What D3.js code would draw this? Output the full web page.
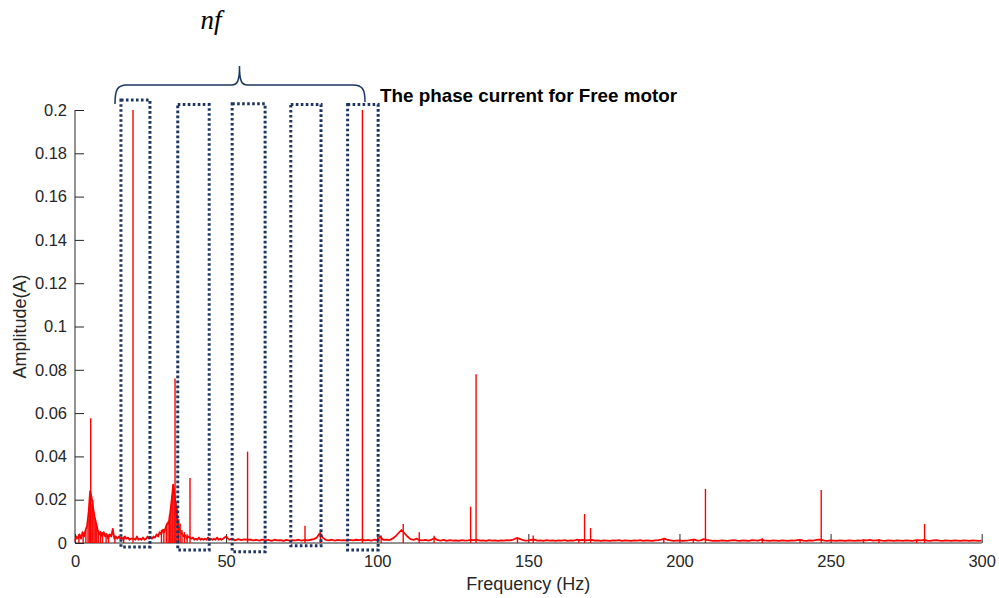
<!DOCTYPE html>
<html><head><meta charset="utf-8">
<script src="https://cdn.jsdelivr.net/npm/d3@7"></script>
<style>
html,body{margin:0;padding:0;background:#fff;}
svg{display:block;}
</style>
</head><body>
<svg id="chart" width="999" height="598"></svg>
<script>
// ---- data ----
const xTicks = [0, 50, 100, 150, 200, 250, 300];
const yTicks = [0, 0.02, 0.04, 0.06, 0.08, 0.1, 0.12, 0.14, 0.16, 0.18, 0.2];

// noise floor, 0 - 49.5 Hz at 0.5 Hz spacing
const lowStart = 0, lowStep = 0.5;
const lowAmp = [
 0.0010,0.0030,0.0020,0.0040,0.0020,0.0050,0.0030,0.0060,0.0080,0.0140,
 0.0240,0.0210,0.0160,0.0120,0.0090,0.0060,0.0040,0.0050,0.0030,0.0050,
 0.0030,0.0040,0.0020,0.0040,0.0030,0.0065,0.0020,0.0030,0.0020,0.0030,
 0.0020,0.0025,0.0015,0.0030,0.0020,0.0025,0.0015,0.0020,0.0020,0.0020,
 0.0015,0.0030,0.0015,0.0020,0.0015,0.0025,0.0015,0.0020,0.0030,0.0020,
 0.0025,0.0020,0.0030,0.0025,0.0040,0.0030,0.0050,0.0040,0.0060,0.0050,
 0.0070,0.0090,0.0090,0.0140,0.0200,0.0270,0.0220,0.0140,0.0090,0.0060,
 0.0050,0.0040,0.0030,0.0035,0.0020,0.0030,0.0025,0.0020,0.0025,0.0015,
 0.0020,0.0015,0.0025,0.0015,0.0020,0.0015,0.0020,0.0015,0.0025,0.0015,
 0.0020,0.0015,0.0020,0.0015,0.0025,0.0015,0.0020,0.0015,0.0020,0.0025
];
// noise floor, 50 - 300 Hz at 1 Hz spacing
const highStart = 50, highStep = 1;
const highAmp = [
 0.0030,0.0015,0.0020,0.0012,0.0018,0.0013,0.0017,0.0015,0.0016,0.0012,
 0.0015,0.0011,0.0016,0.0012,0.0014,0.0010,0.0015,0.0012,0.0013,0.0010,
 0.0014,0.0011,0.0013,0.0012,0.0015,0.0011,0.0014,0.0012,0.0015,0.0018,
 0.0025,0.0045,0.0025,0.0014,0.0012,0.0015,0.0011,0.0014,0.0012,0.0013,
 0.0011,0.0014,0.0012,0.0015,0.0013,0.0016,0.0012,0.0014,0.0011,0.0015,
 0.0013,0.0030,0.0014,0.0016,0.0013,0.0020,0.0030,0.0045,0.0060,0.0045,
 0.0030,0.0018,0.0014,0.0020,0.0013,0.0012,0.0014,0.0011,0.0016,0.0022,
 0.0013,0.0011,0.0014,0.0010,0.0013,0.0011,0.0012,0.0010,0.0013,0.0011,
 0.0012,0.0014,0.0013,0.0015,0.0011,0.0012,0.0010,0.0013,0.0011,0.0012,
 0.0010,0.0012,0.0011,0.0013,0.0012,0.0016,0.0022,0.0020,0.0014,0.0011,
 0.0012,0.0014,0.0016,0.0011,0.0012,0.0010,0.0013,0.0011,0.0012,0.0010,
 0.0012,0.0011,0.0013,0.0010,0.0012,0.0011,0.0015,0.0013,0.0014,0.0012,
 0.0013,0.0014,0.0011,0.0012,0.0010,0.0012,0.0011,0.0010,0.0012,0.0011,
 0.0013,0.0010,0.0012,0.0011,0.0010,0.0012,0.0011,0.0013,0.0010,0.0012,
 0.0011,0.0010,0.0012,0.0013,0.0016,0.0020,0.0015,0.0012,0.0010,0.0011,
 0.0012,0.0010,0.0011,0.0012,0.0014,0.0016,0.0011,0.0012,0.0018,0.0014,
 0.0012,0.0010,0.0011,0.0010,0.0012,0.0011,0.0010,0.0012,0.0013,0.0011,
 0.0010,0.0012,0.0011,0.0010,0.0013,0.0012,0.0011,0.0015,0.0012,0.0011,
 0.0010,0.0012,0.0011,0.0010,0.0012,0.0011,0.0010,0.0012,0.0011,0.0013,
 0.0014,0.0011,0.0010,0.0012,0.0011,0.0013,0.0016,0.0014,0.0011,0.0010,
 0.0012,0.0011,0.0010,0.0012,0.0011,0.0010,0.0012,0.0011,0.0010,0.0012,
 0.0011,0.0013,0.0012,0.0014,0.0011,0.0012,0.0013,0.0011,0.0010,0.0012,
 0.0011,0.0010,0.0012,0.0011,0.0010,0.0012,0.0011,0.0010,0.0012,0.0013,
 0.0012,0.0014,0.0011,0.0010,0.0012,0.0013,0.0011,0.0010,0.0012,0.0011,
 0.0010,0.0012,0.0011,0.0010,0.0012,0.0011,0.0010,0.0012,0.0011,0.0010,
 0.0011
];
// discrete spectral lines (incl. jagged lines inside the low-frequency humps)
const peakFreq = [5.2, 19.2, 33.1, 38.05, 57.1, 76.1, 81.2, 95.1, 101.3, 108.6, 113.9, 118.8,
  130.9, 132.7, 146.4, 151.6, 166.7, 168.6, 170.6, 194.8, 204.6, 208.6, 227.4, 239.9,
  246.9, 260.9, 266.0, 278.5, 281.1,
  1.3, 2.7, 3.6, 4.3, 4.7, 5.0, 5.6, 5.9, 6.3, 6.7, 7.2, 7.7, 8.4, 9.1, 10.3, 11.1, 13.2, 16.1,
  28.6, 29.4, 30.2, 30.8, 31.3, 31.7, 32.1, 32.4, 32.8, 33.4, 33.8, 34.3, 34.8, 35.4, 36.2, 37.1];
const peakAmp = [0.0576, 0.2, 0.076, 0.030, 0.0422, 0.008, 0.0055, 0.2, 0.0035, 0.0088, 0.005, 0.0034,
  0.0168, 0.078, 0.0027, 0.0035, 0.0018, 0.0134, 0.0069, 0.0022, 0.0019, 0.025, 0.0022, 0.0016,
  0.0245, 0.0016, 0.0019, 0.0016, 0.0088,
  0.004, 0.005, 0.006, 0.011, 0.016, 0.021, 0.018, 0.020, 0.013, 0.010, 0.008, 0.006, 0.0055, 0.005, 0.0045, 0.004, 0.0035, 0.003,
  0.006, 0.0065, 0.008, 0.010, 0.013, 0.017, 0.022, 0.027, 0.025, 0.019, 0.016, 0.011, 0.009, 0.006, 0.005, 0.004];

// highlighted harmonic windows (Hz)
const boxFrom = [15.2, 34.0, 52.0, 71.4, 90.2];
const boxTo   = [24.8, 44.4, 62.9, 81.4, 100.3];
const boxTop  = [0.2046, 0.2025, 0.2029, 0.2025, 0.2025];
const boxBot  = [-0.0018, -0.0032, -0.0040, -0.0013, -0.0032];

const xLabel = "Frequency (Hz)";
const yLabel = "Amplitude(A)";
const legendText = "The phase current for Free motor";
const braceLabel = "nf";

// ---- drawing ----
const svg = d3.select("#chart");
const x = d3.scaleLinear().domain([0, 300]).range([75, 981.7]);
const y = d3.scaleLinear().domain([0, 0.2]).range([543, 110]);
const axisColor = "#262626";
const navy = "#1c3563";

const floor = [];
lowAmp.forEach((a, i) => floor.push([lowStart + i * lowStep, a]));
highAmp.forEach((a, i) => floor.push([highStart + i * highStep, a]));

// axes
const gx = svg.append("g").attr("transform", `translate(0,${y(0)})`)
  .call(d3.axisBottom(x).tickValues(xTicks).tickSize(-9).tickPadding(12).tickFormat(d3.format("d")));
const gy = svg.append("g").attr("transform", `translate(${x(0)},0)`)
  .call(d3.axisLeft(y).tickValues(yTicks).tickSize(-9).tickPadding(8).tickFormat(d => d === 0 ? "0" : String(+d.toFixed(2))));
[gx, gy].forEach(g => {
  g.select(".domain").attr("stroke", axisColor).attr("stroke-width", 1);
  g.selectAll(".tick line").attr("stroke", axisColor).attr("stroke-width", 1);
  g.selectAll(".tick text").attr("fill", axisColor)
    .style("font-family", "'Liberation Sans', Arial, sans-serif").style("font-size", "16.5px");
});
gy.select(".domain").attr("d", `M0,${y(0)}V${y(0.2)}`);
gx.select(".domain").attr("d", `M${x(0)},0H${x(300)}`);

// spectrum
const line = d3.line().x(d => x(d[0])).y(d => y(d[1]));
svg.append("path").datum(floor).attr("d", line)
  .attr("fill", "none").attr("stroke", "#ff0000").attr("stroke-width", 1.8).attr("stroke-linejoin", "round");
svg.append("g").selectAll("line").data(peakFreq).join("line")
  .attr("x1", d => x(d)).attr("x2", d => x(d))
  .attr("y1", y(0)).attr("y2", (d, i) => y(peakAmp[i]))
  .attr("stroke", "#ff0000").attr("stroke-width", 1.4);

// dotted boxes
svg.append("g").selectAll("rect").data(boxFrom).join("rect")
  .attr("x", d => x(d)).attr("width", (d, i) => x(boxTo[i]) - x(d))
  .attr("y", (d, i) => y(boxTop[i])).attr("height", (d, i) => y(boxBot[i]) - y(boxTop[i]))
  .attr("fill", "none").attr("stroke", navy).attr("stroke-width", 3)
  .attr("stroke-dasharray", "2.6,2.4");

// brace
const bl = 115, br = 365, bm = 239.5, by = 85;
svg.append("path")
  .attr("d", `M${bl},104 C${bl},90 ${bl+2},${by} ${bl+12},${by} L${bm-8},${by} C${bm-2},${by} ${bm},${by-4} ${bm},66 C${bm},${by-4} ${bm+2},${by} ${bm+8},${by} L${br-12},${by} C${br-2},${by} ${br},90 ${br},102`)
  .attr("fill", "none").attr("stroke", navy).attr("stroke-width", 1.5);

svg.append("text").attr("x", 211).attr("y", 29).attr("text-anchor", "middle")
  .style("font-family", "'Liberation Serif', 'Times New Roman', serif").style("font-style", "italic")
  .style("font-size", "27px").attr("fill", "#000").text(braceLabel);

svg.append("text").attr("x", 380).attr("y", 102)
  .style("font-family", "'Liberation Sans', Arial, sans-serif").style("font-weight", "bold")
  .style("font-size", "18.5px").attr("textLength", 297).attr("lengthAdjust", "spacingAndGlyphs")
  .attr("fill", "#000").text(legendText);

// axis titles
svg.append("text").attr("x", (x(0) + x(300)) / 2).attr("y", 590).attr("text-anchor", "middle")
  .style("font-family", "'Liberation Sans', Arial, sans-serif").style("font-size", "18px")
  .attr("fill", axisColor).text(xLabel);
svg.append("text").attr("transform", `translate(26,${(y(0) + y(0.2)) / 2}) rotate(-90)`).attr("text-anchor", "middle")
  .style("font-family", "'Liberation Sans', Arial, sans-serif").style("font-size", "18px")
  .attr("fill", axisColor).text(yLabel);
</script>
</body></html>
